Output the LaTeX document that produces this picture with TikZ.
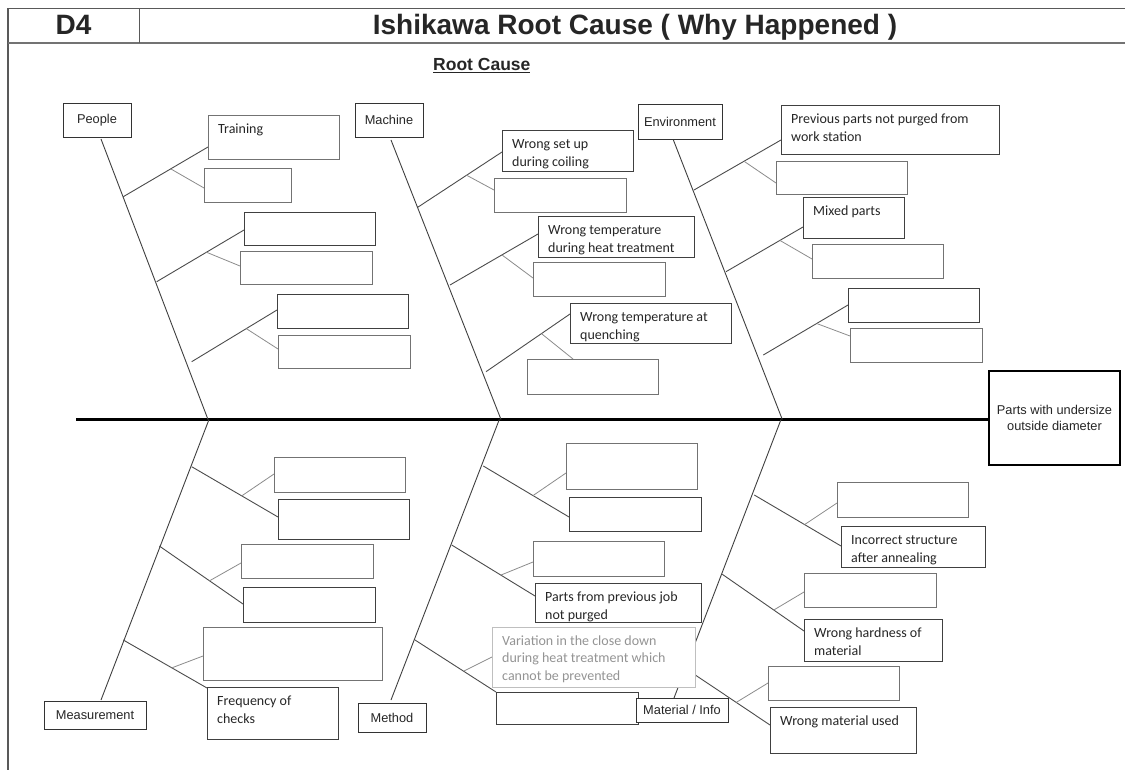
\documentclass[tikz,border=0pt]{standalone}
\usepackage{fontspec}
\setmainfont{Liberation Sans}
\newfontfamily\calfont{Carlito}
\usetikzlibrary{calc}
\pgfdeclarelayer{bg}
\pgfsetlayers{bg,main}
\tikzset{
  catbox/.style={draw=black!80, line width=0.9pt, fill=white, inner sep=0pt, outer sep=0pt,
    font=\fontsize{12.8}{15}\selectfont, text=black!85},
  causebox/.style={draw=black!55, line width=0.9pt, fill=white, inner sep=0pt, outer sep=0pt},
  darkbox/.style={causebox, draw=black!75},
  lightbox/.style={causebox, draw=black!25},
  effectbox/.style={draw=black, line width=2.4pt, fill=white, inner sep=0pt, outer sep=0pt,
    align=center, font=\fontsize{12.8}{15.7}\selectfont, text=black!85},
  causetext/.style={anchor=north west, inner sep=0pt, align=left,
    font=\calfont\fontsize{14}{18}\selectfont, text=black!85},
  greytext/.style={causetext, text=black!42, font=\calfont\fontsize{14}{17.6}\selectfont},
  bone/.style={draw=black!75, line width=0.9pt},
  branchline/.style={draw=black!70, line width=0.9pt},
  subline/.style={draw=black!45, line width=0.8pt},
  spine/.style={draw=black, line width=2.8pt},
  frame/.style={draw=black!65, line width=1.3pt},
}
% style, name, x1, y1, x2, y2, text
\newcommand\mkbox[7]{%
  \pgfmathsetmacro\bw{#5-#3}\pgfmathsetmacro\bh{#6-#4}%
  \node[#1, minimum width=\bw pt, minimum height=\bh pt] (#2) at ({(#3+#5)/2},{(#4+#6)/2}) {#7};}
\newcommand\btext[3][causetext]{%
  \node[#1] (#2t) at ($(#2.north west)+(10,7)$) {\rule{0pt}{11pt}#3};}
% bonepoint, main box, main offset, fraction, sub box, sub offset
\newcommand\branch[6]{%
  \coordinate (#1e) at ($(#2.north west)+(#3)$);
  \coordinate (#1f) at ($(#5.north west)+(#6)$);
  \draw[branchline] (#1) -- (#1e);
  \draw[subline] ($(#1)!#4!(#1e)$) -- (#1f);}

\begin{document}
\begin{tikzpicture}[x=1pt,y=-1pt]
\useasboundingbox (0,0) rectangle (1125,770);

% header frame
\draw[frame] (8,770) -- (8,8.7) -- (1125,8.7);
\draw[frame, line width=2pt, draw=black!55] (8,42.7) -- (1125,42.7);
\draw[frame] (139.3,8.7) -- (139.3,42.7);
\node[anchor=base, inner sep=0pt, font=\bfseries\fontsize{28}{30}\selectfont, text=black!85] (d4) at (73.5,35) {D4};
\node[anchor=base, inner sep=0pt, font=\bfseries\fontsize{28}{30}\selectfont, text=black!85] (title) at (635,35) {Ishikawa Root Cause ( Why Happened )};
\node[anchor=base west, inner sep=0pt, font=\bfseries\fontsize{17.5}{20}\selectfont, text=black!85] (rc) at (433,70.7) {\underline{Root Cause}};

% category boxes
\mkbox{catbox}{People}{63}{103}{131}{137}{People}
\mkbox{catbox}{Machine}{355}{103}{423}{137}{Machine}
\mkbox{catbox}{Env}{638}{104}{722}{139}{Environment}
\mkbox{catbox}{Meas}{44}{701}{146}{729}{Measurement}
\mkbox{catbox}{Method}{358}{703}{426}{732}{Method}
\mkbox{effectbox}{Effect}{989}{371}{1120}{465}{Parts with undersize\\outside diameter}

% People causes
\mkbox{causebox}{T1}{208}{115}{339}{159}{}\btext{T1}{Training}
\mkbox{causebox}{T2}{204}{168}{291}{202}{}
\mkbox{darkbox}{T3}{244}{212}{375}{245}{}
\mkbox{causebox}{T4}{240}{251}{372}{284}{}
\mkbox{darkbox}{T5}{277}{294}{408}{328}{}
\mkbox{causebox}{T6}{278}{335}{410}{368}{}
% Machine causes
\mkbox{darkbox}{M1}{502}{130}{633}{171}{}\btext{M1}{Wrong set up\\during coiling}
\mkbox{causebox}{M2}{494}{178}{626}{212}{}
\mkbox{darkbox}{M3}{538}{216}{694}{257}{}\btext{M3}{Wrong temperature\\during heat treatment}
\mkbox{causebox}{M4}{533}{262}{665}{296}{}
\mkbox{darkbox}{M5}{570}{303}{731}{343}{}\btext{M5}{Wrong temperature at\\quenching}
\mkbox{causebox}{M6}{527}{359}{658}{394}{}
% Environment causes
\mkbox{darkbox}{E1}{781}{105}{999}{154}{}\btext{E1}{Previous parts not purged from\\work station}
\mkbox{causebox}{E2}{776}{161}{907}{194}{}
\mkbox{darkbox}{E3}{803}{197}{904}{238}{}\btext{E3}{Mixed parts}
\mkbox{causebox}{E4}{812}{244}{943}{278}{}
\mkbox{darkbox}{E5}{848}{288}{979}{322}{}
\mkbox{causebox}{E6}{850}{328}{982}{362}{}
% Measurement causes
\mkbox{causebox}{L1}{274}{457}{405}{492}{}
\mkbox{darkbox}{L2}{278}{499}{409}{539}{}
\mkbox{causebox}{L3}{241}{544}{373}{578}{}
\mkbox{darkbox}{L4}{243}{587}{375}{622}{}
\mkbox{causebox}{L5}{203}{627}{382}{680}{}
\mkbox{darkbox}{L6}{207}{687}{338}{739}{}\btext{L6}{Frequency of\\checks}
% Method causes
\mkbox{causebox}{D1}{566}{443}{697}{489}{}
\mkbox{darkbox}{D2}{569}{497}{701}{531}{}
\mkbox{causebox}{D3}{533}{541}{664}{576}{}
\mkbox{darkbox}{D4}{535}{583}{701}{622}{}\btext{D4}{Parts from previous job\\not purged}
\mkbox{lightbox}{D5}{492}{627}{695}{687}{}\btext[greytext]{D5}{Variation in the close down\\during heat treatment which\\cannot be prevented}
\mkbox{darkbox}{D6}{496}{692}{638}{724}{}
\mkbox{catbox}{Mat}{636}{698}{728}{722}{Material / Info}
% Material causes
\mkbox{causebox}{R1}{837}{482}{968}{517}{}
\mkbox{darkbox}{R2}{841}{526}{985}{567}{}\btext{R2}{Incorrect structure\\after annealing}
\mkbox{causebox}{R3}{804}{573}{936}{607}{}
\mkbox{darkbox}{R4}{804}{619}{942}{661}{}\btext{R4}{Wrong hardness of\\material}
\mkbox{causebox}{R5}{768}{666}{899}{700}{}
\mkbox{darkbox}{R6}{770}{707}{916}{753}{}\btext{R6}{Wrong material used}

\begin{pgfonlayer}{bg}
\fill[white] (0,0) rectangle (1125,770);
% spine
\coordinate (sp0) at (76,419.5);
\draw[spine] (sp0) -- (Effect.west |- sp0);

% People bone
\coordinate (pTop) at ($(People.south)+(4,2)$);
\coordinate (pBot) at (208,419.5);
\draw[bone] (pTop) -- (pBot);
\coordinate (p1) at (123.3,196.7); \branch{p1}{T1}{0,32}{0.56}{T2}{0,20}
\coordinate (p2) at (156.7,281.7); \branch{p2}{T3}{0,18}{0.57}{T4}{0,15}
\coordinate (p3) at (191.7,361.7); \branch{p3}{T5}{0,16}{0.64}{T6}{0,14}

% Machine bone
\coordinate (mTop) at ($(Machine.south)+(2,3)$);
\coordinate (mBot) at (501,419.5);
\draw[bone] (mTop) -- (mBot);
\coordinate (m1) at (417.7,207.3); \branch{m1}{M1}{0,22}{0.58}{M2}{0,12}
\coordinate (m2) at (450,285); \branch{m2}{M3}{0,18}{0.59}{M4}{0,16}
\coordinate (m3) at (486,371.7); \branch{m3}{M5}{0,11}{0.66}{M6}{46,0}

% Environment bone
\coordinate (eTop) at ($(Env.south)+(-7,0)$);
\coordinate (eBot) at (782.3,419.5);
\draw[bone] (eTop) -- (eBot);
\coordinate (e1) at (694,190); \branch{e1}{E1}{0,35}{0.575}{E2}{0,22}
\coordinate (e2) at (726,271.7); \branch{e2}{E3}{0,30}{0.70}{E4}{0,15}
\coordinate (e3) at (763.3,355); \branch{e3}{E5}{0,17}{0.63}{E6}{0,8}

% Measurement bone
\coordinate (qTop) at (209,419.5);
\coordinate (qBot) at ($(Meas.north)+(6,-1)$);
\draw[bone] (qTop) -- (qBot);
\coordinate (q1) at (191.7,466.7); \branch{q1}{L2}{0,18}{0.58}{L1}{0,17}
\coordinate (q2) at (159.3,546); \branch{q2}{L4}{0,17}{0.60}{L3}{0,19}
\coordinate (q3) at (123.3,640); \branch{q3}{L6}{0,1}{0.58}{L5}{0,29}

% Method bone
\coordinate (dTop) at (499.3,419.5);
\coordinate (dBot) at ($(Method.north)+(-1,-3)$);
\draw[bone] (dTop) -- (dBot);
\coordinate (d1) at (483.3,466); \branch{d1}{D2}{0,20}{0.58}{D1}{0,30}
\coordinate (d2) at (451.7,545); \branch{d2}{D4}{0,13}{0.59}{D3}{0,21}
\coordinate (d3) at (415,640); \branch{d3}{D6}{0,0}{0.60}{D5}{0,30}

% Material bone
\coordinate (rTop) at (781,419.5);
\coordinate (rBot) at ($(Mat.north)+(-8,0)$);
\draw[bone] (rTop) -- (rBot);
\coordinate (r1) at (754.3,495); \branch{r1}{R2}{0,20}{0.58}{R1}{0,21}
\coordinate (r2) at (722.3,574.3); \branch{r2}{R4}{0,12}{0.63}{R3}{0,19}
\coordinate (r3) at (685.6,668.5); \branch{r3}{R6}{0,18}{0.60}{R5}{0,17}
\end{pgfonlayer}
\end{tikzpicture}
\end{document}
